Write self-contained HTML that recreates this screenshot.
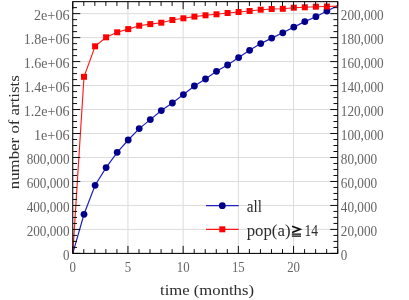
<!DOCTYPE html>
<html><head><meta charset="utf-8"><style>
html,body{margin:0;padding:0;background:#fff;}
svg{display:block;will-change:transform;font-family:"Liberation Serif",serif;}
</style></head><body>
<svg width="409" height="300" viewBox="0 0 409 300">
<rect width="409" height="300" fill="#fff"/>
<g stroke="#dcdcdc" stroke-width="1" fill="none">
<line x1="127.95" y1="1.65" x2="127.95" y2="253.4"/>
<line x1="183.15" y1="1.65" x2="183.15" y2="253.4"/>
<line x1="238.35" y1="1.65" x2="238.35" y2="253.4"/>
<line x1="293.55" y1="1.65" x2="293.55" y2="253.4"/>
<line x1="72.75" y1="229.42" x2="337.76" y2="229.42"/>
<line x1="72.75" y1="205.45" x2="337.76" y2="205.45"/>
<line x1="72.75" y1="181.47" x2="337.76" y2="181.47"/>
<line x1="72.75" y1="157.50" x2="337.76" y2="157.50"/>
<line x1="72.75" y1="133.52" x2="337.76" y2="133.52"/>
<line x1="72.75" y1="109.54" x2="337.76" y2="109.54"/>
<line x1="72.75" y1="85.57" x2="337.76" y2="85.57"/>
<line x1="72.75" y1="61.59" x2="337.76" y2="61.59"/>
<line x1="72.75" y1="37.61" x2="337.76" y2="37.61"/>
<line x1="72.75" y1="13.64" x2="337.76" y2="13.64"/>
</g>
<clipPath id="c"><rect x="72.75" y="1.65" width="265.01" height="251.75"/></clipPath>
<g clip-path="url(#c)">
<polyline points="72.8,253.4 84.0,214.3 95.1,185.3 106.1,167.6 117.2,152.3 128.2,140.0 139.2,128.6 150.3,119.6 161.3,110.6 172.4,103.0 183.4,94.6 194.4,86.0 205.5,79.0 216.5,71.3 227.6,65.0 238.6,57.6 249.6,50.3 260.7,43.6 271.7,38.1 282.8,32.8 293.8,27.1 304.8,21.6 315.9,16.7 326.9,11.0 338.0,5.6" fill="none" stroke="#2020bc" stroke-width="1.2"/>
<polyline points="72.8,253.4 84.0,76.8 95.1,46.3 106.1,37.3 117.2,32.3 128.2,29.1 139.2,25.7 150.3,24.1 161.3,22.7 172.4,20.0 183.4,18.3 194.4,16.6 205.5,15.3 216.5,14.3 227.6,13.0 238.6,12.0 249.6,11.0 260.7,9.7 271.7,9.0 282.8,8.8 293.8,7.7 304.8,7.3 315.9,6.7 326.9,6.5 338.0,6.1" fill="none" stroke="#ff1a1a" stroke-width="1.15"/>
</g>
<circle cx="84.0" cy="214.3" r="3.4" fill="#00008b"/>
<circle cx="95.1" cy="185.3" r="3.4" fill="#00008b"/>
<circle cx="106.1" cy="167.6" r="3.4" fill="#00008b"/>
<circle cx="117.2" cy="152.3" r="3.4" fill="#00008b"/>
<circle cx="128.2" cy="140.0" r="3.4" fill="#00008b"/>
<circle cx="139.2" cy="128.6" r="3.4" fill="#00008b"/>
<circle cx="150.3" cy="119.6" r="3.4" fill="#00008b"/>
<circle cx="161.3" cy="110.6" r="3.4" fill="#00008b"/>
<circle cx="172.4" cy="103.0" r="3.4" fill="#00008b"/>
<circle cx="183.4" cy="94.6" r="3.4" fill="#00008b"/>
<circle cx="194.4" cy="86.0" r="3.4" fill="#00008b"/>
<circle cx="205.5" cy="79.0" r="3.4" fill="#00008b"/>
<circle cx="216.5" cy="71.3" r="3.4" fill="#00008b"/>
<circle cx="227.6" cy="65.0" r="3.4" fill="#00008b"/>
<circle cx="238.6" cy="57.6" r="3.4" fill="#00008b"/>
<circle cx="249.6" cy="50.3" r="3.4" fill="#00008b"/>
<circle cx="260.7" cy="43.6" r="3.4" fill="#00008b"/>
<circle cx="271.7" cy="38.1" r="3.4" fill="#00008b"/>
<circle cx="282.8" cy="32.8" r="3.4" fill="#00008b"/>
<circle cx="293.8" cy="27.1" r="3.4" fill="#00008b"/>
<circle cx="304.8" cy="21.6" r="3.4" fill="#00008b"/>
<circle cx="315.9" cy="16.7" r="3.4" fill="#00008b"/>
<circle cx="326.9" cy="11.0" r="3.4" fill="#00008b"/>
<rect x="81.0" y="73.8" width="6" height="6" fill="#ff0000"/>
<rect x="92.1" y="43.3" width="6" height="6" fill="#ff0000"/>
<rect x="103.1" y="34.3" width="6" height="6" fill="#ff0000"/>
<rect x="114.2" y="29.3" width="6" height="6" fill="#ff0000"/>
<rect x="125.2" y="26.1" width="6" height="6" fill="#ff0000"/>
<rect x="136.2" y="22.7" width="6" height="6" fill="#ff0000"/>
<rect x="147.3" y="21.1" width="6" height="6" fill="#ff0000"/>
<rect x="158.3" y="19.7" width="6" height="6" fill="#ff0000"/>
<rect x="169.4" y="17.0" width="6" height="6" fill="#ff0000"/>
<rect x="180.4" y="15.3" width="6" height="6" fill="#ff0000"/>
<rect x="191.4" y="13.6" width="6" height="6" fill="#ff0000"/>
<rect x="202.5" y="12.3" width="6" height="6" fill="#ff0000"/>
<rect x="213.5" y="11.3" width="6" height="6" fill="#ff0000"/>
<rect x="224.6" y="10.0" width="6" height="6" fill="#ff0000"/>
<rect x="235.6" y="9.0" width="6" height="6" fill="#ff0000"/>
<rect x="246.6" y="8.0" width="6" height="6" fill="#ff0000"/>
<rect x="257.7" y="6.7" width="6" height="6" fill="#ff0000"/>
<rect x="268.7" y="6.0" width="6" height="6" fill="#ff0000"/>
<rect x="279.8" y="5.8" width="6" height="6" fill="#ff0000"/>
<rect x="290.8" y="4.7" width="6" height="6" fill="#ff0000"/>
<rect x="301.8" y="4.3" width="6" height="6" fill="#ff0000"/>
<rect x="312.9" y="3.7" width="6" height="6" fill="#ff0000"/>
<rect x="323.9" y="3.5" width="6" height="6" fill="#ff0000"/>
<g stroke="#000" stroke-width="0.95" fill="none">
<line x1="72.75" y1="253.4" x2="72.75" y2="245.9"/>
<line x1="72.75" y1="1.65" x2="72.75" y2="9.15"/>
<line x1="83.79" y1="253.4" x2="83.79" y2="249.1"/>
<line x1="83.79" y1="1.65" x2="83.79" y2="5.949999999999999"/>
<line x1="94.83" y1="253.4" x2="94.83" y2="249.1"/>
<line x1="94.83" y1="1.65" x2="94.83" y2="5.949999999999999"/>
<line x1="105.87" y1="253.4" x2="105.87" y2="249.1"/>
<line x1="105.87" y1="1.65" x2="105.87" y2="5.949999999999999"/>
<line x1="116.91" y1="253.4" x2="116.91" y2="249.1"/>
<line x1="116.91" y1="1.65" x2="116.91" y2="5.949999999999999"/>
<line x1="127.95" y1="253.4" x2="127.95" y2="245.9"/>
<line x1="127.95" y1="1.65" x2="127.95" y2="9.15"/>
<line x1="138.99" y1="253.4" x2="138.99" y2="249.1"/>
<line x1="138.99" y1="1.65" x2="138.99" y2="5.949999999999999"/>
<line x1="150.03" y1="253.4" x2="150.03" y2="249.1"/>
<line x1="150.03" y1="1.65" x2="150.03" y2="5.949999999999999"/>
<line x1="161.07" y1="253.4" x2="161.07" y2="249.1"/>
<line x1="161.07" y1="1.65" x2="161.07" y2="5.949999999999999"/>
<line x1="172.11" y1="253.4" x2="172.11" y2="249.1"/>
<line x1="172.11" y1="1.65" x2="172.11" y2="5.949999999999999"/>
<line x1="183.15" y1="253.4" x2="183.15" y2="245.9"/>
<line x1="183.15" y1="1.65" x2="183.15" y2="9.15"/>
<line x1="194.19" y1="253.4" x2="194.19" y2="249.1"/>
<line x1="194.19" y1="1.65" x2="194.19" y2="5.949999999999999"/>
<line x1="205.23" y1="253.4" x2="205.23" y2="249.1"/>
<line x1="205.23" y1="1.65" x2="205.23" y2="5.949999999999999"/>
<line x1="216.27" y1="253.4" x2="216.27" y2="249.1"/>
<line x1="216.27" y1="1.65" x2="216.27" y2="5.949999999999999"/>
<line x1="227.31" y1="253.4" x2="227.31" y2="249.1"/>
<line x1="227.31" y1="1.65" x2="227.31" y2="5.949999999999999"/>
<line x1="238.35" y1="253.4" x2="238.35" y2="245.9"/>
<line x1="238.35" y1="1.65" x2="238.35" y2="9.15"/>
<line x1="249.39" y1="253.4" x2="249.39" y2="249.1"/>
<line x1="249.39" y1="1.65" x2="249.39" y2="5.949999999999999"/>
<line x1="260.43" y1="253.4" x2="260.43" y2="249.1"/>
<line x1="260.43" y1="1.65" x2="260.43" y2="5.949999999999999"/>
<line x1="271.47" y1="253.4" x2="271.47" y2="249.1"/>
<line x1="271.47" y1="1.65" x2="271.47" y2="5.949999999999999"/>
<line x1="282.51" y1="253.4" x2="282.51" y2="249.1"/>
<line x1="282.51" y1="1.65" x2="282.51" y2="5.949999999999999"/>
<line x1="293.55" y1="253.4" x2="293.55" y2="245.9"/>
<line x1="293.55" y1="1.65" x2="293.55" y2="9.15"/>
<line x1="304.59" y1="253.4" x2="304.59" y2="249.1"/>
<line x1="304.59" y1="1.65" x2="304.59" y2="5.949999999999999"/>
<line x1="315.63" y1="253.4" x2="315.63" y2="249.1"/>
<line x1="315.63" y1="1.65" x2="315.63" y2="5.949999999999999"/>
<line x1="326.67" y1="253.4" x2="326.67" y2="249.1"/>
<line x1="326.67" y1="1.65" x2="326.67" y2="5.949999999999999"/>
<line x1="337.71" y1="253.4" x2="337.71" y2="249.1"/>
<line x1="337.71" y1="1.65" x2="337.71" y2="5.949999999999999"/>
<line x1="72.75" y1="253.40" x2="80.25" y2="253.40"/>
<line x1="337.76" y1="253.40" x2="330.26" y2="253.40"/>
<line x1="72.75" y1="247.41" x2="77.05" y2="247.41"/>
<line x1="337.76" y1="247.41" x2="333.46" y2="247.41"/>
<line x1="72.75" y1="241.41" x2="77.05" y2="241.41"/>
<line x1="337.76" y1="241.41" x2="333.46" y2="241.41"/>
<line x1="72.75" y1="235.42" x2="77.05" y2="235.42"/>
<line x1="337.76" y1="235.42" x2="333.46" y2="235.42"/>
<line x1="72.75" y1="229.42" x2="80.25" y2="229.42"/>
<line x1="337.76" y1="229.42" x2="330.26" y2="229.42"/>
<line x1="72.75" y1="223.43" x2="77.05" y2="223.43"/>
<line x1="337.76" y1="223.43" x2="333.46" y2="223.43"/>
<line x1="72.75" y1="217.44" x2="77.05" y2="217.44"/>
<line x1="337.76" y1="217.44" x2="333.46" y2="217.44"/>
<line x1="72.75" y1="211.44" x2="77.05" y2="211.44"/>
<line x1="337.76" y1="211.44" x2="333.46" y2="211.44"/>
<line x1="72.75" y1="205.45" x2="80.25" y2="205.45"/>
<line x1="337.76" y1="205.45" x2="330.26" y2="205.45"/>
<line x1="72.75" y1="199.45" x2="77.05" y2="199.45"/>
<line x1="337.76" y1="199.45" x2="333.46" y2="199.45"/>
<line x1="72.75" y1="193.46" x2="77.05" y2="193.46"/>
<line x1="337.76" y1="193.46" x2="333.46" y2="193.46"/>
<line x1="72.75" y1="187.47" x2="77.05" y2="187.47"/>
<line x1="337.76" y1="187.47" x2="333.46" y2="187.47"/>
<line x1="72.75" y1="181.47" x2="80.25" y2="181.47"/>
<line x1="337.76" y1="181.47" x2="330.26" y2="181.47"/>
<line x1="72.75" y1="175.48" x2="77.05" y2="175.48"/>
<line x1="337.76" y1="175.48" x2="333.46" y2="175.48"/>
<line x1="72.75" y1="169.48" x2="77.05" y2="169.48"/>
<line x1="337.76" y1="169.48" x2="333.46" y2="169.48"/>
<line x1="72.75" y1="163.49" x2="77.05" y2="163.49"/>
<line x1="337.76" y1="163.49" x2="333.46" y2="163.49"/>
<line x1="72.75" y1="157.50" x2="80.25" y2="157.50"/>
<line x1="337.76" y1="157.50" x2="330.26" y2="157.50"/>
<line x1="72.75" y1="151.50" x2="77.05" y2="151.50"/>
<line x1="337.76" y1="151.50" x2="333.46" y2="151.50"/>
<line x1="72.75" y1="145.51" x2="77.05" y2="145.51"/>
<line x1="337.76" y1="145.51" x2="333.46" y2="145.51"/>
<line x1="72.75" y1="139.51" x2="77.05" y2="139.51"/>
<line x1="337.76" y1="139.51" x2="333.46" y2="139.51"/>
<line x1="72.75" y1="133.52" x2="80.25" y2="133.52"/>
<line x1="337.76" y1="133.52" x2="330.26" y2="133.52"/>
<line x1="72.75" y1="127.53" x2="77.05" y2="127.53"/>
<line x1="337.76" y1="127.53" x2="333.46" y2="127.53"/>
<line x1="72.75" y1="121.53" x2="77.05" y2="121.53"/>
<line x1="337.76" y1="121.53" x2="333.46" y2="121.53"/>
<line x1="72.75" y1="115.54" x2="77.05" y2="115.54"/>
<line x1="337.76" y1="115.54" x2="333.46" y2="115.54"/>
<line x1="72.75" y1="109.54" x2="80.25" y2="109.54"/>
<line x1="337.76" y1="109.54" x2="330.26" y2="109.54"/>
<line x1="72.75" y1="103.55" x2="77.05" y2="103.55"/>
<line x1="337.76" y1="103.55" x2="333.46" y2="103.55"/>
<line x1="72.75" y1="97.55" x2="77.05" y2="97.55"/>
<line x1="337.76" y1="97.55" x2="333.46" y2="97.55"/>
<line x1="72.75" y1="91.56" x2="77.05" y2="91.56"/>
<line x1="337.76" y1="91.56" x2="333.46" y2="91.56"/>
<line x1="72.75" y1="85.57" x2="80.25" y2="85.57"/>
<line x1="337.76" y1="85.57" x2="330.26" y2="85.57"/>
<line x1="72.75" y1="79.57" x2="77.05" y2="79.57"/>
<line x1="337.76" y1="79.57" x2="333.46" y2="79.57"/>
<line x1="72.75" y1="73.58" x2="77.05" y2="73.58"/>
<line x1="337.76" y1="73.58" x2="333.46" y2="73.58"/>
<line x1="72.75" y1="67.58" x2="77.05" y2="67.58"/>
<line x1="337.76" y1="67.58" x2="333.46" y2="67.58"/>
<line x1="72.75" y1="61.59" x2="80.25" y2="61.59"/>
<line x1="337.76" y1="61.59" x2="330.26" y2="61.59"/>
<line x1="72.75" y1="55.60" x2="77.05" y2="55.60"/>
<line x1="337.76" y1="55.60" x2="333.46" y2="55.60"/>
<line x1="72.75" y1="49.60" x2="77.05" y2="49.60"/>
<line x1="337.76" y1="49.60" x2="333.46" y2="49.60"/>
<line x1="72.75" y1="43.61" x2="77.05" y2="43.61"/>
<line x1="337.76" y1="43.61" x2="333.46" y2="43.61"/>
<line x1="72.75" y1="37.61" x2="80.25" y2="37.61"/>
<line x1="337.76" y1="37.61" x2="330.26" y2="37.61"/>
<line x1="72.75" y1="31.62" x2="77.05" y2="31.62"/>
<line x1="337.76" y1="31.62" x2="333.46" y2="31.62"/>
<line x1="72.75" y1="25.63" x2="77.05" y2="25.63"/>
<line x1="337.76" y1="25.63" x2="333.46" y2="25.63"/>
<line x1="72.75" y1="19.63" x2="77.05" y2="19.63"/>
<line x1="337.76" y1="19.63" x2="333.46" y2="19.63"/>
<line x1="72.75" y1="13.64" x2="80.25" y2="13.64"/>
<line x1="337.76" y1="13.64" x2="330.26" y2="13.64"/>
<line x1="72.75" y1="7.64" x2="77.05" y2="7.64"/>
<line x1="337.76" y1="7.64" x2="333.46" y2="7.64"/>
</g>
<rect x="72.75" y="1.65" width="265.01" height="251.75" fill="none" stroke="#000" stroke-width="1.05"/>
<g fill="#646464" font-size="14.5px" opacity="0.99">
<text x="69.55" y="272.0" textLength="6.4" lengthAdjust="spacingAndGlyphs">0</text>
<text x="124.75" y="272.0" textLength="6.4" lengthAdjust="spacingAndGlyphs">5</text>
<text x="176.75" y="272.0" textLength="12.8" lengthAdjust="spacingAndGlyphs">10</text>
<text x="231.95" y="272.0" textLength="12.8" lengthAdjust="spacingAndGlyphs">15</text>
<text x="287.15" y="272.0" textLength="12.8" lengthAdjust="spacingAndGlyphs">20</text>
<text x="63.05" y="259.90" textLength="6.5" lengthAdjust="spacingAndGlyphs">0</text>
<text x="340.8" y="259.90" textLength="6.5" lengthAdjust="spacingAndGlyphs">0</text>
<text x="26.66" y="235.92" textLength="42.9" lengthAdjust="spacingAndGlyphs">200,000</text>
<text x="340.8" y="235.92" textLength="36.4" lengthAdjust="spacingAndGlyphs">20,000</text>
<text x="26.66" y="211.95" textLength="42.9" lengthAdjust="spacingAndGlyphs">400,000</text>
<text x="340.8" y="211.95" textLength="36.4" lengthAdjust="spacingAndGlyphs">40,000</text>
<text x="26.66" y="187.97" textLength="42.9" lengthAdjust="spacingAndGlyphs">600,000</text>
<text x="340.8" y="187.97" textLength="36.4" lengthAdjust="spacingAndGlyphs">60,000</text>
<text x="26.66" y="164.00" textLength="42.9" lengthAdjust="spacingAndGlyphs">800,000</text>
<text x="340.8" y="164.00" textLength="36.4" lengthAdjust="spacingAndGlyphs">80,000</text>
<text x="33.94" y="140.02" textLength="35.7" lengthAdjust="spacingAndGlyphs">1e+06</text>
<text x="340.8" y="140.02" textLength="42.9" lengthAdjust="spacingAndGlyphs">100,000</text>
<text x="23.75" y="116.04" textLength="45.9" lengthAdjust="spacingAndGlyphs">1.2e+06</text>
<text x="340.8" y="116.04" textLength="42.9" lengthAdjust="spacingAndGlyphs">120,000</text>
<text x="23.75" y="92.07" textLength="45.9" lengthAdjust="spacingAndGlyphs">1.4e+06</text>
<text x="340.8" y="92.07" textLength="42.9" lengthAdjust="spacingAndGlyphs">140,000</text>
<text x="23.75" y="68.09" textLength="45.9" lengthAdjust="spacingAndGlyphs">1.6e+06</text>
<text x="340.8" y="68.09" textLength="42.9" lengthAdjust="spacingAndGlyphs">160,000</text>
<text x="23.75" y="44.11" textLength="45.9" lengthAdjust="spacingAndGlyphs">1.8e+06</text>
<text x="340.8" y="44.11" textLength="42.9" lengthAdjust="spacingAndGlyphs">180,000</text>
<text x="33.94" y="20.14" textLength="35.7" lengthAdjust="spacingAndGlyphs">2e+06</text>
<text x="340.8" y="20.14" textLength="42.9" lengthAdjust="spacingAndGlyphs">200,000</text>
</g>
<g fill="#2c2c2c" font-size="15px">
<text x="207" y="294.5" text-anchor="middle" textLength="94" lengthAdjust="spacingAndGlyphs">time (months)</text>
<text transform="translate(18.5,132.2) rotate(-90)" text-anchor="middle" textLength="114" lengthAdjust="spacingAndGlyphs">number of artists</text>
</g>
<line x1="206" y1="205.7" x2="238.7" y2="205.7" stroke="#2020bc" stroke-width="1.2"/><circle cx="222.3" cy="205.7" r="3.4" fill="#00008b"/>
<line x1="206" y1="229.3" x2="238.7" y2="229.3" stroke="#ff1a1a" stroke-width="1.15"/><rect x="219.3" y="226.3" width="6" height="6" fill="#ff0000"/>
<g fill="#2c2c2c" font-size="16px"><text x="246.7" y="211.8" textLength="15.2" lengthAdjust="spacingAndGlyphs">all</text><text x="246.7" y="235.5" textLength="43.8" lengthAdjust="spacingAndGlyphs">pop(a)</text><text x="304.4" y="235.5" textLength="13.5" lengthAdjust="spacingAndGlyphs">14</text></g>
<g stroke="#0a0a0a" stroke-width="1.6" fill="none"><path d="M292.1 226.3 L300.1 229.35 L292.1 232.4"/><path d="M291.8 234.15 H301 M291.8 236.05 H301" stroke-width="1.3"/></g>
</svg></body></html>
